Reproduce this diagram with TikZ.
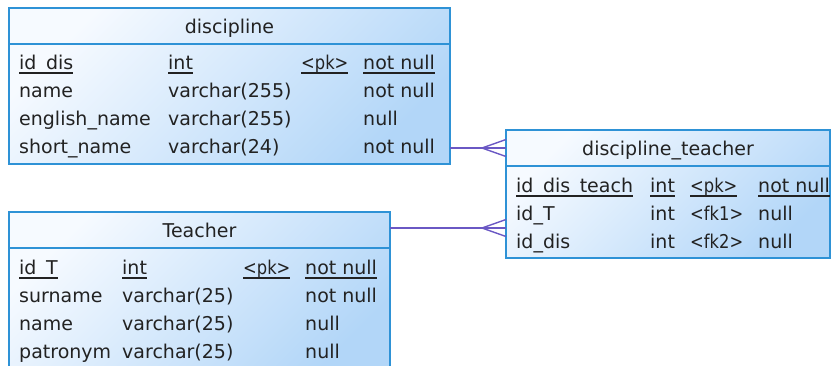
\documentclass[tikz,border=0pt]{standalone}
\usepackage{fontspec}
\setmainfont{DejaVu Sans}
\definecolor{bordc}{HTML}{2E92D6}
\definecolor{shA}{HTML}{F6FAFF}
\definecolor{shB}{HTML}{B2D6F8}
\definecolor{linkc}{HTML}{6A58C4}
\definecolor{txt}{HTML}{222222}
\newcommand{\ulx}[1]{\setbox0\hbox{#1}\rlap{\rule[-4.5pt]{\wd0}{1.3pt}}\box0}
\newcommand{\kx}[1]{\scalebox{0.86}[1]{#1}}
\tikzset{
  tbl/.style={draw=bordc, line width=1.3pt, top color=shA, bottom color=shB, shading angle=45},
  hdr/.style={draw=bordc, line width=1.3pt},
  cell/.style={anchor=base west, inner sep=0pt, text=txt, font=\fontsize{19}{22}\selectfont},
  title/.style={anchor=base, inner sep=0pt, text=txt, font=\fontsize{19}{22}\selectfont},
  link/.style={draw=linkc, line width=1.4pt},
}
\begin{document}
\begin{tikzpicture}[x=1pt,y=-1pt]
\useasboundingbox (0,0) rectangle (835,365);
% discipline
\path[tbl] (9,8) rectangle (450,164);
\coordinate (discR) at (450,148);
\draw[hdr] (9,44) -- (450,44);
\node[title] (discT) at (229.5,33) {discipline};
\node[cell] (d11) at (19,69) {\ulx{id\_dis}};
\node[cell] (d12) at (168,69) {\ulx{int}};
\node[cell] (d13) at (301,69) {\ulx{\kx{<pk>}}};
\node[cell] (d14) at (363,69) {\ulx{not null}};
\node[cell] (d21) at (19,97) {name};
\node[cell] (d22) at (168,97) {varchar(255)};
\node[cell] (d24) at (363,97) {not null};
\node[cell] (d31) at (19,125) {english\_name};
\node[cell] (d32) at (168,125) {varchar(255)};
\node[cell] (d34) at (363,125) {null};
\node[cell] (d41) at (19,153) {short\_name};
\node[cell] (d42) at (168,153) {varchar(24)};
\node[cell] (d44) at (363,153) {not null};
% Teacher
\path[tbl] (9,212) rectangle (390,380);
\coordinate (teachR) at (390,228);
\draw[hdr] (9,248) -- (390,248);
\node[title] (teachT) at (199.5,237) {Teacher};
\node[cell] (t11) at (19,274) {\ulx{id\_T}};
\node[cell] (t12) at (122,274) {\ulx{int}};
\node[cell] (t13) at (243,274) {\ulx{\kx{<pk>}}};
\node[cell] (t14) at (305,274) {\ulx{not null}};
\node[cell] (t21) at (19,302) {surname};
\node[cell] (t22) at (122,302) {varchar(25)};
\node[cell] (t24) at (305,302) {not null};
\node[cell] (t31) at (19,330) {name};
\node[cell] (t32) at (122,330) {varchar(25)};
\node[cell] (t34) at (305,330) {null};
\node[cell] (t41) at (19,358) {patronym};
\node[cell] (t42) at (122,358) {varchar(25)};
\node[cell] (t44) at (305,358) {null};
% discipline_teacher
\path[tbl] (506,130) rectangle (830,258);
\coordinate (dtA) at (506,148);
\coordinate (dtB) at (506,228);
\draw[hdr] (506,166) -- (830,166);
\node[title] (dtT) at (668,155) {discipline\_teacher};
\node[cell] (s11) at (516,192) {\ulx{id\_dis\_teach}};
\node[cell] (s12) at (650,192) {\ulx{int}};
\node[cell] (s13) at (690,192) {\ulx{\kx{<pk>}}};
\node[cell] (s14) at (758,192) {\ulx{not null}};
\node[cell] (s21) at (516,220) {id\_T};
\node[cell] (s22) at (650,220) {int};
\node[cell] (s23) at (690,220) {\kx{<fk1>}};
\node[cell] (s24) at (758,220) {null};
\node[cell] (s31) at (516,248) {id\_dis};
\node[cell] (s32) at (650,248) {int};
\node[cell] (s33) at (690,248) {\kx{<fk2>}};
\node[cell] (s34) at (758,248) {null};
% links
\draw[link] (discR) -- (dtA);
\draw[link] ([xshift=-24pt]dtA) -- ([yshift=-8.5pt]dtA);
\draw[link] ([xshift=-24pt]dtA) -- ([yshift=8.5pt]dtA);
\draw[link] (teachR) -- (dtB);
\draw[link] ([xshift=-24pt]dtB) -- ([yshift=-8.5pt]dtB);
\draw[link] ([xshift=-24pt]dtB) -- ([yshift=8.5pt]dtB);
\end{tikzpicture}
\end{document}
